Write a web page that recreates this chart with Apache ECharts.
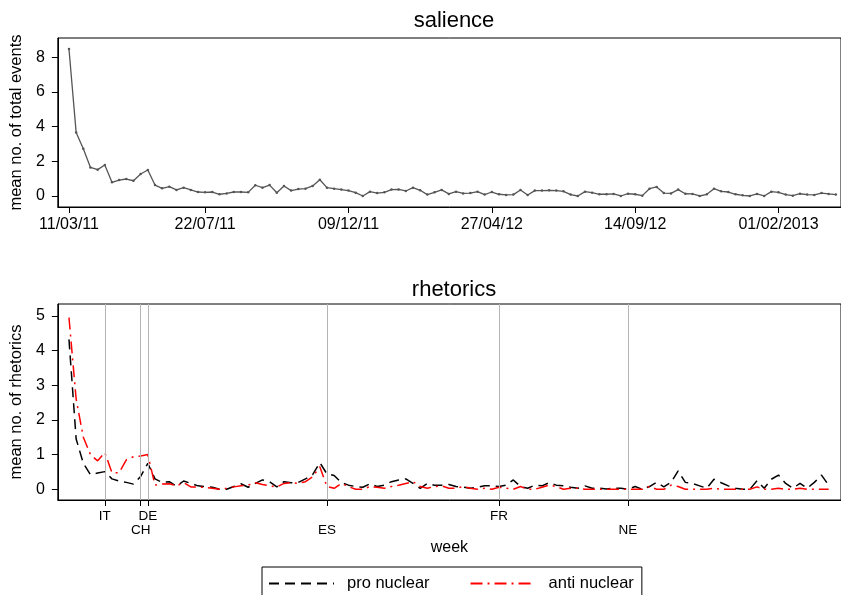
<!DOCTYPE html>
<html>
<head>
<meta charset="utf-8">
<script src="https://cdn.jsdelivr.net/npm/echarts@6/dist/echarts.min.js"></script>
<style>
html,body{margin:0;padding:0;background:#fff;}
#c{width:841px;height:595px;}
</style>
</head>
<body>
<div id="c"></div>
<script>
// week index 0 = 11/03/11
const salience = [8.48,3.67,2.73,1.65,1.52,1.79,0.79,0.92,0.98,0.88,1.27,1.50,0.63,0.44,0.54,0.35,0.48,0.35,0.23,0.21,
0.23,0.10,0.15,0.23,0.23,0.21,0.62,0.48,0.63,0.19,0.58,0.31,0.40,0.42,0.58,0.94,0.48,0.42,0.37,0.31,
0.19,0.00,0.25,0.17,0.21,0.37,0.38,0.29,0.48,0.33,0.08,0.21,0.35,0.12,0.25,0.15,0.17,0.25,0.08,0.23,
0.10,0.06,0.08,0.35,0.06,0.31,0.31,0.33,0.31,0.27,0.08,0.00,0.25,0.19,0.10,0.10,0.12,0.00,0.13,0.10,
0.02,0.42,0.52,0.17,0.15,0.37,0.13,0.12,0.00,0.10,0.42,0.27,0.23,0.10,0.04,0.00,0.12,0.00,0.25,0.21,
0.08,0.02,0.13,0.08,0.06,0.17,0.12,0.08];

const proNuclear = [4.32,1.45,0.75,0.42,0.47,0.51,0.30,0.24,0.20,0.15,0.37,0.75,0.30,0.20,0.22,0.09,0.24,0.17,0.10,0.08,
0.06,0.00,0.00,0.08,0.16,0.06,0.17,0.27,0.22,0.07,0.22,0.19,0.20,0.30,0.42,0.77,0.44,0.40,0.19,0.12,
0.08,0.06,0.16,0.08,0.12,0.22,0.27,0.30,0.17,0.03,0.17,0.12,0.12,0.14,0.08,0.06,0.03,0.06,0.10,0.10,
0.08,0.12,0.27,0.08,0.03,0.12,0.10,0.19,0.12,0.10,0.06,0.03,0.10,0.03,0.03,0.01,0.03,0.03,0.00,0.08,
0.00,0.08,0.20,0.07,0.20,0.53,0.20,0.17,0.10,0.03,0.29,0.19,0.10,0.03,0.00,0.00,0.25,0.03,0.29,0.41,
0.17,0.03,0.17,0.03,0.20,0.41,0.12];

const antiNuclear = [4.95,2.60,1.50,1.00,0.82,1.06,0.48,0.48,0.85,0.94,0.96,1.00,0.12,0.15,0.16,0.10,0.19,0.07,0.07,0.05,
0.03,0.00,0.03,0.07,0.10,0.12,0.19,0.14,0.10,0.07,0.17,0.19,0.17,0.22,0.36,0.65,0.08,0.03,0.17,0.08,
0.00,0.00,0.08,0.06,0.03,0.08,0.12,0.17,0.22,0.08,0.03,0.08,0.10,0.03,0.03,0.08,0.03,0.00,0.03,0.00,
0.06,0.03,0.00,0.08,0.00,0.00,0.06,0.12,0.08,0.00,0.03,0.03,0.00,0.00,0.00,0.00,0.00,0.00,0.00,0.00,
0.00,0.08,0.00,0.00,0.12,0.08,0.00,0.00,0.00,0.00,0.03,0.00,0.00,0.00,0.00,0.00,0.07,0.00,0.00,0.03,
0.00,0.00,0.03,0.00,0.00,0.00,0.00];

const dateTickWeeks = [0,19,39,59,79,99];
const dateTickLabels = ['11/03/11','22/07/11','09/12/11','27/04/12','14/09/12','01/02/2013'];
const eventWeeks = [5,10,11,36,60,78];
const eventLabels = ['IT','CH','DE','ES','FR','NE'];
const eventRow = [0,1,0,1,0,1];
const salienceTicks = [0,2,4,6,8];
const rhetoricsTicks = [0,1,2,3,4,5];

const FONT = 'Liberation Sans, Arial, sans-serif';
const toPairs = arr => arr.map((v,i)=>[i,v]);

const chart = echarts.init(document.getElementById('c'), null, {renderer:'canvas'});
const xMin = -1.56, xMax = -1.56 + 790/7.229;

const option = {
  backgroundColor:'#fff',
  animation:false,
  textStyle:{fontFamily:FONT,color:'#000'},
  title:[
    {text:'salience',left:449,top:5,textAlign:'center',textStyle:{fontSize:22,fontWeight:'normal',color:'#000',fontFamily:FONT}},
    {text:'rhetorics',left:449,top:274,textAlign:'center',textStyle:{fontSize:22,fontWeight:'normal',color:'#000',fontFamily:FONT}}
  ],
  grid:[
    {left:57,top:38,width:790,height:169,show:true,borderColor:'#000',borderWidth:1,backgroundColor:'transparent'},
    {left:57,top:304,width:790,height:196,show:true,borderColor:'#000',borderWidth:1,backgroundColor:'transparent'}
  ],
  xAxis:[
    {type:'value',gridIndex:0,min:xMin,max:xMax,
     axisLine:{show:true,onZero:false,lineStyle:{color:'#000'}},
     axisTick:{show:true,length:6,customValues:dateTickWeeks,lineStyle:{color:'#000'}},
     axisLabel:{show:true,customValues:dateTickWeeks,fontSize:16,color:'#000',margin:10,fontFamily:FONT,
       formatter:v=>{const i=dateTickWeeks.indexOf(Math.round(v));return i>=0?dateTickLabels[i]:'';}},
     splitLine:{show:false}},
    {type:'value',gridIndex:1,min:xMin,max:xMax,name:'week',nameLocation:'middle',nameGap:40,
     nameTextStyle:{fontSize:16,color:'#000',fontFamily:FONT},
     axisLine:{show:true,onZero:false,lineStyle:{color:'#000'}},
     axisTick:{show:true,length:6,customValues:eventWeeks,lineStyle:{color:'#000'}},
     axisLabel:{show:true,customValues:eventWeeks,fontSize:13.5,color:'#000',margin:9,lineHeight:14,fontFamily:FONT,
       formatter:v=>{const i=eventWeeks.indexOf(Math.round(v));if(i<0)return '';return eventRow[i]?'\n'+eventLabels[i]:eventLabels[i];}},
     splitLine:{show:false}}
  ],
  yAxis:[
    {type:'value',gridIndex:0,min:-0.635,max:9.117,name:'mean no. of total events',nameLocation:'middle',nameGap:24,
     nameTextStyle:{fontSize:16.5,color:'#000',fontFamily:FONT},
     axisLine:{show:true,onZero:false,lineStyle:{color:'#000'}},
     axisTick:{show:true,length:6,customValues:salienceTicks,lineStyle:{color:'#000'}},
     axisLabel:{show:true,customValues:salienceTicks,fontSize:16,color:'#000',margin:13,fontFamily:FONT},
     splitLine:{show:false}},
    {type:'value',gridIndex:1,min:-0.308,max:5.34,name:'mean no. of rhetorics',nameLocation:'middle',nameGap:24,
     nameTextStyle:{fontSize:16.5,color:'#000',fontFamily:FONT},
     axisLine:{show:true,onZero:false,lineStyle:{color:'#000'}},
     axisTick:{show:true,length:6,customValues:rhetoricsTicks,lineStyle:{color:'#000'}},
     axisLabel:{show:true,customValues:rhetoricsTicks,fontSize:16,color:'#000',margin:13,fontFamily:FONT},
     splitLine:{show:false}}
  ],
  legend:{
    left:262,top:567,orient:'horizontal',
    data:['pro nuclear','anti nuclear'],
    itemWidth:65,itemHeight:12,itemGap:40,
    padding:[8,8,20,6],
    borderColor:'#000',borderWidth:1,
    itemStyle:{opacity:0},
    textStyle:{fontSize:16.5,color:'#000',fontFamily:FONT,padding:[0,0,0,8]}
  },
  series:[
    {type:'line',name:'salience',xAxisIndex:0,yAxisIndex:0,data:toPairs(salience),
     symbol:'circle',symbolSize:2.5,showSymbol:true,
     itemStyle:{color:'#555'},lineStyle:{color:'#555',width:1.3},z:3},
    {type:'line',name:'events',xAxisIndex:1,yAxisIndex:1,data:[],z:1,
     markLine:{silent:true,symbol:'none',label:{show:false},animation:false,
       lineStyle:{color:'#b4b4b4',type:'solid',width:1},
       data:eventWeeks.map(w=>({xAxis:w}))}},
    {type:'line',name:'pro nuclear',xAxisIndex:1,yAxisIndex:1,data:toPairs(proNuclear),
     symbol:'none',itemStyle:{color:'#000'},
     lineStyle:{color:'#000',width:1.5,type:[10,6]},z:3},
    {type:'line',name:'anti nuclear',xAxisIndex:1,yAxisIndex:1,data:toPairs(antiNuclear),
     symbol:'none',itemStyle:{color:'#ff0000'},
     lineStyle:{color:'#ff0000',width:1.5,type:[12,5,2,5]},z:4}
  ]
};
chart.setOption(option);
</script>
</body>
</html>
